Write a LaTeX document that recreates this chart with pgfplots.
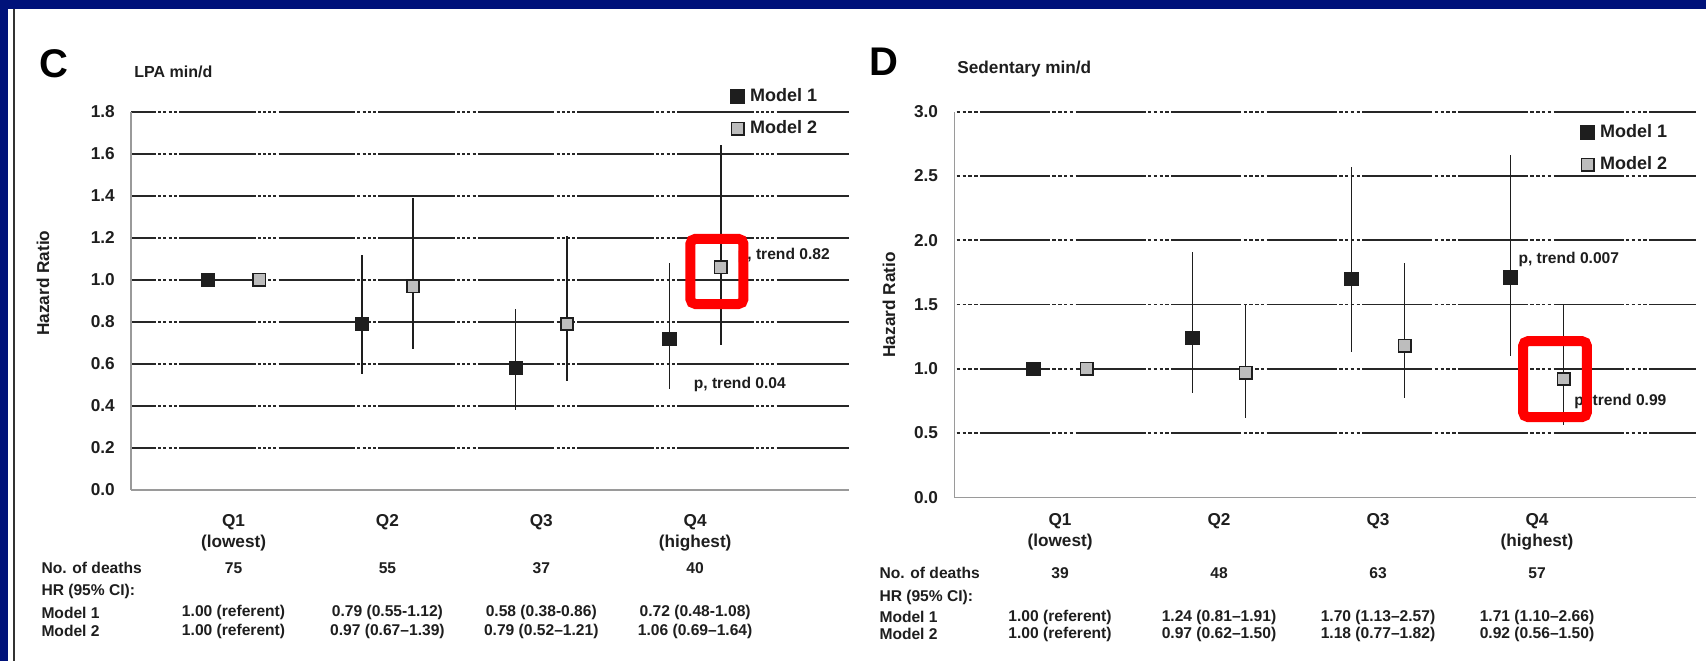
\documentclass[border=0pt]{standalone}
\usepackage{fontspec}
\setmainfont{Liberation Sans}
\usepackage{pgfplots}
\pgfplotsset{compat=1.18}
\usepackage{pgfplotstable}

\definecolor{navy}{HTML}{00127A}
\definecolor{gridc}{HTML}{262626}
\definecolor{axisgray}{HTML}{9A9A9A}
\definecolor{mtwo}{HTML}{BDBDBD}
\definecolor{ink}{HTML}{1E1E1E}

% Panel C (LPA min/d): x, HR, lower, upper
\pgfplotstableread{
x      y    lo   hi
0.8333 1.00 1.00 1.00
1.8333 0.79 0.55 1.12
2.8333 0.58 0.38 0.86
3.8333 0.72 0.48 1.08
}\Cmone
\pgfplotstableread{
x      y    lo   hi
1.1667 1.00 1.00 1.00
2.1667 0.97 0.67 1.39
3.1667 0.79 0.52 1.21
4.1667 1.06 0.69 1.64
}\Cmtwo
% Panel D (Sedentary min/d)
\pgfplotstableread{
x      y    lo   hi
0.8333 1.00 1.00 1.00
1.8333 1.24 0.81 1.91
2.8333 1.70 1.13 2.57
3.8333 1.71 1.10 2.66
}\Dmone
\pgfplotstableread{
x      y    lo   hi
1.1667 1.00 1.00 1.00
2.1667 0.97 0.62 1.50
3.1667 1.18 0.77 1.82
4.1667 0.92 0.56 1.50
}\Dmtwo

\pgfplotsset{
  hrbase/.style={
    scale only axis, clip=false,
    axis x line*=bottom, axis y line*=left,
    axis line style={axisgray, line width=0.6pt},
    major tick length=0pt,
    xtick={1,2,3,4},
    xticklabels={{Q1\\(lowest)},{Q2},{Q3},{Q4\\(highest)}},
    xticklabel style={font=\bfseries\fontsize{8.6}{10.5}\selectfont, ink, align=center, anchor=north},
    yticklabel style={font=\bfseries\fontsize{8.6}{10}\selectfont, ink,
      /pgf/number format/.cd, fixed, fixed zerofill, precision=1, assume math mode=true},
    yticklabel shift=4.6pt,
    ymajorgrids,
    extra y tick style={grid=none},
    ylabel={Hazard Ratio},
    ylabel style={font=\bfseries\fontsize{8.6}{10}\selectfont, ink, anchor=center},
    legend style={draw=none, fill=none, inner sep=0pt, outer sep=0pt,
      row sep=8pt, column sep=3pt, anchor=north west,
      font=\bfseries\fontsize{9}{10}\selectfont, text=ink,
      nodes={inner sep=0pt}},
    legend cell align=left,
    legend image code/.code={\draw[##1] plot coordinates {(0pt,0pt)};},
  },
  mone/.style={only marks, mark=square*, mark size=3.25pt,
    mark options={draw=ink, fill=ink, line width=0.6pt}},
  mtwo/.style={only marks, mark=square*, mark size=3.1pt,
    mark options={draw=ink, fill=mtwo, line width=0.8pt}},
  ebars/.style={error bars/.cd, y dir=both, y explicit, error mark=none,
    error bar style={line width=0.85pt, ink}},
}

\begin{document}
\begin{tikzpicture}
\useasboundingbox (0,0) rectangle (853pt,330.5pt);
\fill[white] (0,0) rectangle (853pt,330.5pt);
\fill[navy] (0,0) rectangle (4pt,330.5pt);
\fill[navy] (0,326pt) rectangle (853pt,330.5pt);
\fill[black!80] (6.4pt,0) rectangle (7.4pt,326pt);

\node[font=\bfseries\fontsize{20}{22}\selectfont, inner sep=0pt] at (27pt,298.75pt) {C};
\node[font=\bfseries\fontsize{20}{22}\selectfont, inner sep=0pt] at (441.75pt,299.5pt) {D};
\node[font=\bfseries\fontsize{8}{9}\selectfont, text=ink, inner sep=0pt, anchor=base west] at (67pt,291.6pt) {LPA min/d};
\node[font=\bfseries\fontsize{8.6}{9}\selectfont, text=ink, inner sep=0pt, anchor=base west] at (478.5pt,293.8pt) {Sedentary min/d};

% ---------------- Panel C ----------------
\begin{axis}[hrbase,
  at={(65.5pt,85.5pt)}, anchor=origin,
  width=359pt, height=189.15pt,
  xmin=0.3333, xmax=5, ymin=0, ymax=1.8,
  ytick={0.2,0.4,...,1.8}, extra y ticks={0},
  xticklabel shift=8.5pt,
  grid style={gridc, line width=0.85pt,
    dash pattern=on 38.3pt off 1.1pt on 1.5pt off 1.1pt on 1.5pt off 1.1pt on 1.5pt off 1.1pt on 1.5pt off 1.1pt,
    dash phase=25.8pt},
  ylabel style={at={(rel axis cs:-0.1226,0.547)}},
  legend style={at={(rel axis cs:0.8357,1.0613)}},
]
\addplot[mone, ebars] table[x=x, y=y,
  y error plus expr=\thisrow{hi}-\thisrow{y},
  y error minus expr=\thisrow{y}-\thisrow{lo}] {\Cmone};
\addlegendentry{Model 1}
\addplot[mtwo, ebars] table[x=x, y=y,
  y error plus expr=\thisrow{hi}-\thisrow{y},
  y error minus expr=\thisrow{y}-\thisrow{lo}] {\Cmtwo};
\addlegendentry{Model 2}

\begin{scope}[every node/.style={font=\bfseries\fontsize{7.8}{9}\selectfont, text=ink, inner sep=0pt}]
\node[anchor=west] at (axis cs:4.275,1.118) {p, trend 0.82};
\node[anchor=west] at (axis cs:3.989,0.504) {p, trend 0.04};
\node[anchor=west] at (axis cs:-0.251,-0.371) {No. of deaths};
\node at (axis cs:1,-0.371) {75};
\node at (axis cs:2,-0.371) {55};
\node at (axis cs:3,-0.371) {37};
\node at (axis cs:4,-0.371) {40};
\node[anchor=west] at (axis cs:-0.251,-0.481) {HR (95\% CI):};
\node[anchor=west] at (axis cs:-0.251,-0.585) {Model 1};
\node at (axis cs:1,-0.585) {1.00 (referent)};
\node at (axis cs:2,-0.585) {0.79 (0.55-1.12)};
\node at (axis cs:3,-0.585) {0.58 (0.38-0.86)};
\node at (axis cs:4,-0.585) {0.72 (0.48-1.08)};
\node[anchor=west] at (axis cs:-0.251,-0.671) {Model 2};
\node at (axis cs:1,-0.671) {1.00 (referent)};
\node at (axis cs:2,-0.671) {0.97 (0.67–1.39)};
\node at (axis cs:3,-0.671) {0.79 (0.52–1.21)};
\node at (axis cs:4,-0.671) {1.06 (0.69–1.64)};
\end{scope}
\draw[red, line width=5pt, rounded corners=2.5pt] (axis cs:3.969,0.885) rectangle (axis cs:4.314,1.195);
\end{axis}

% ---------------- Panel D ----------------
\begin{axis}[hrbase,
  at={(477.15pt,81.85pt)}, anchor=origin,
  width=370.85pt, height=192.8pt,
  xmin=0.335, xmax=5, ymin=0, ymax=3,
  ytick={0.5,1,...,3}, extra y ticks={0},
  xticklabel shift=4.4pt,
  grid style={gridc, line width=0.85pt,
    dash pattern=on 35pt off 1.2pt on 1.7pt off 1.2pt on 1.7pt off 1.2pt on 1.7pt off 1.2pt on 1.7pt off 1.2pt,
    dash phase=35pt},
  ylabel style={at={(rel axis cs:-0.088,0.499)}},
  legend style={at={(rel axis cs:0.845,0.9668)}},
]
\addplot[mone, ebars] table[x=x, y=y,
  y error plus expr=\thisrow{hi}-\thisrow{y},
  y error minus expr=\thisrow{y}-\thisrow{lo}] {\Dmone};
\addlegendentry{Model 1}
\addplot[mtwo, ebars] table[x=x, y=y,
  y error plus expr=\thisrow{hi}-\thisrow{y},
  y error minus expr=\thisrow{y}-\thisrow{lo}] {\Dmtwo};
\addlegendentry{Model 2}

\begin{scope}[every node/.style={font=\bfseries\fontsize{7.8}{9}\selectfont, text=ink, inner sep=0pt}]
\node[anchor=west] at (axis cs:3.881,1.854) {p, trend 0.007};
\node[anchor=west] at (axis cs:4.233,0.749) {p, trend 0.99};
\node[anchor=west] at (axis cs:-0.138,-0.589) {No. of deaths};
\node at (axis cs:1,-0.589) {39};
\node at (axis cs:2,-0.589) {48};
\node at (axis cs:3,-0.589) {63};
\node at (axis cs:4,-0.589) {57};
\node[anchor=west] at (axis cs:-0.138,-0.776) {HR (95\% CI):};
\node[anchor=west] at (axis cs:-0.138,-0.931) {Model 1};
\node at (axis cs:1,-0.931) {1.00 (referent)};
\node at (axis cs:2,-0.931) {1.24 (0.81–1.91)};
\node at (axis cs:3,-0.931) {1.70 (1.13–2.57)};
\node at (axis cs:4,-0.931) {1.71 (1.10–2.66)};
\node[anchor=west] at (axis cs:-0.138,-1.064) {Model 2};
\node at (axis cs:1,-1.064) {1.00 (referent)};
\node at (axis cs:2,-1.064) {0.97 (0.62–1.50)};
\node at (axis cs:3,-1.064) {1.18 (0.77–1.82)};
\node at (axis cs:4,-1.064) {0.92 (0.56–1.50)};
\end{scope}
\draw[red, line width=5pt, rounded corners=2.5pt] (axis cs:3.912,0.624) rectangle (axis cs:4.314,1.215);
\end{axis}
\end{tikzpicture}
\end{document}
